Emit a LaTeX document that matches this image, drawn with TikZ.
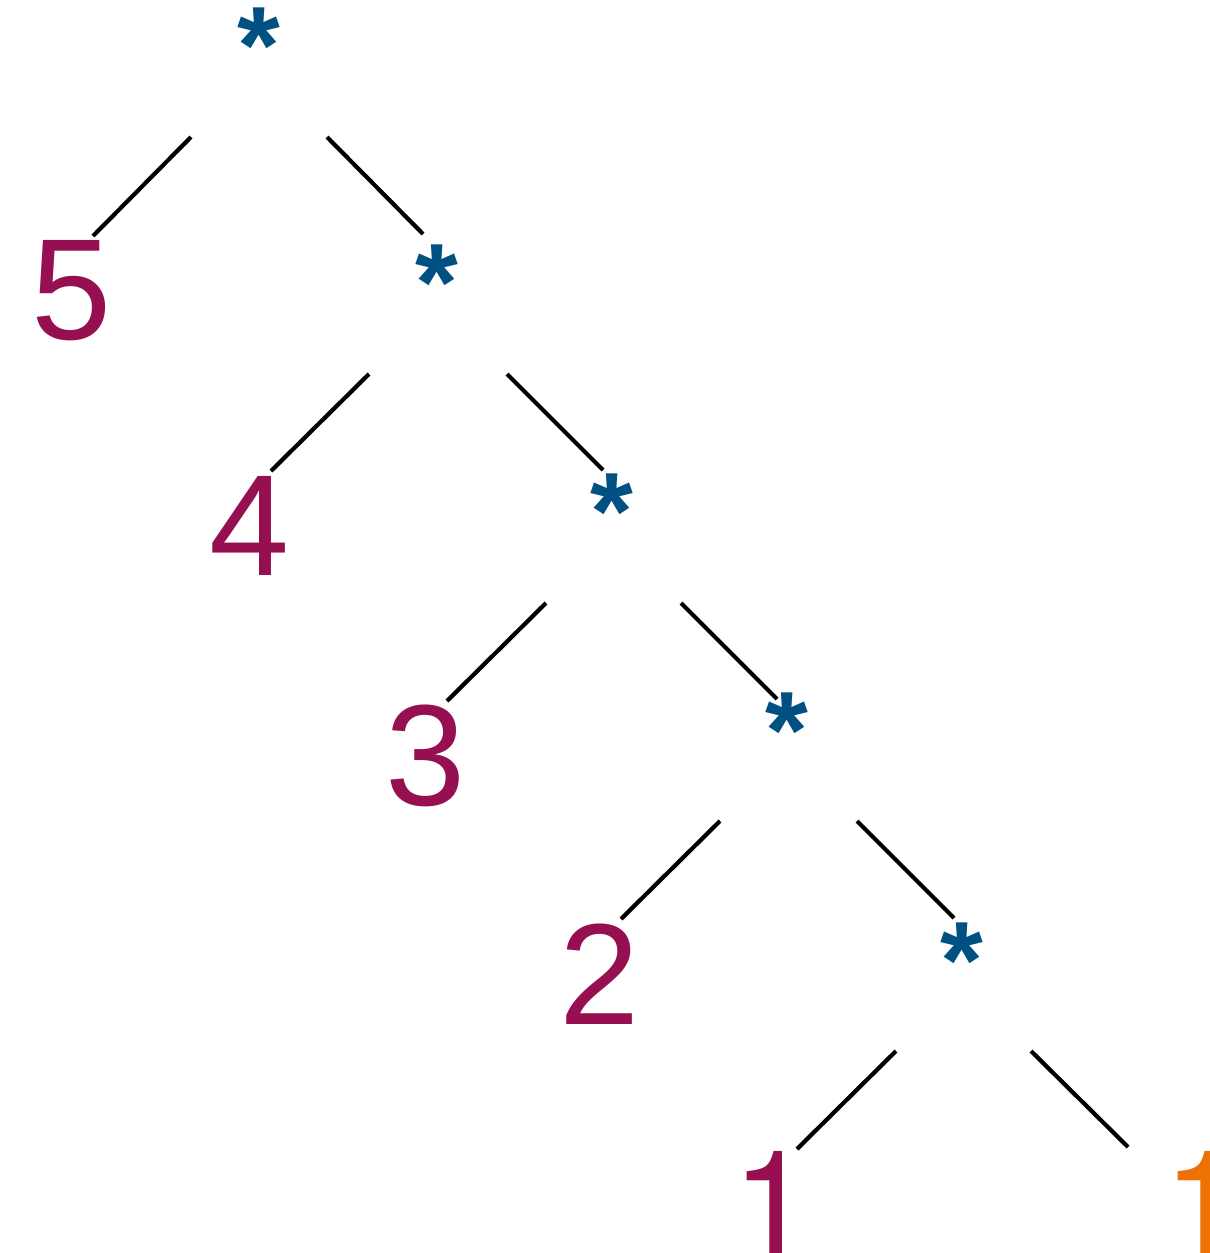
\documentclass[tikz,border=0pt]{standalone}
\usepackage{fontspec}
\setmainfont{Liberation Sans}
\newfontfamily\onefont{TeX Gyre Heros}
\definecolor{opmag}{HTML}{960F50}
\definecolor{opblue}{HTML}{005082}
\definecolor{oporange}{HTML}{EE7203}
\begin{document}
\begin{tikzpicture}[x=1pt,y=-1pt,
  lbl/.style={inner sep=0pt,outer sep=0pt,anchor=base,font=\fontsize{144}{144}\selectfont},
  num/.style={lbl,text=opmag},
  one/.style={lbl,font=\fontsize{144}{144}\selectfont\onefont},
  op/.style={lbl,text=opblue,font=\fontsize{110}{110}\selectfont\bfseries},
  edge/.style={line width=4.2pt,black}]
\useasboundingbox (0,0) rectangle (1210,1253);
% operator nodes
\node[op] (s1) at (259,83) {*};
\node[op] (s2) at (437,320) {*};
\node[op] (s3) at (612,549) {*};
\node[op] (s4) at (787,768) {*};
\node[op] (s5) at (962,998) {*};
% number nodes
\node[num] (n5) at (72,339) {5};
\node[num] (n4) at (250,575) {4};
\node[num] (n3) at (426,805) {3};
\node[num] (n2) at (600,1024) {2};
\node[one,text=opmag] (n1) at (773,1253) {1};
\node[one,text=oporange] (m1) at (1204,1253) {1};
% connector ends
\coordinate (s1l) at (191,137); \coordinate (n5t) at (93,236);
\coordinate (s1r) at (327,137); \coordinate (s2t) at (423,234);
\coordinate (s2l) at (369,374); \coordinate (n4t) at (271,471);
\coordinate (s2r) at (507,374); \coordinate (s3t) at (603,470);
\coordinate (s3l) at (546,603); \coordinate (n3t) at (447,701);
\coordinate (s3r) at (681,603); \coordinate (s4t) at (777,699);
\coordinate (s4l) at (720,821); \coordinate (n2t) at (621,919);
\coordinate (s4r) at (857,821); \coordinate (s5t) at (954,918);
\coordinate (s5l) at (896,1051); \coordinate (n1t) at (797,1149);
\coordinate (s5r) at (1031,1051); \coordinate (m1t) at (1128,1147);
% connectors
\draw[edge] (s1l) -- (n5t);
\draw[edge] (s1r) -- (s2t);
\draw[edge] (s2l) -- (n4t);
\draw[edge] (s2r) -- (s3t);
\draw[edge] (s3l) -- (n3t);
\draw[edge] (s3r) -- (s4t);
\draw[edge] (s4l) -- (n2t);
\draw[edge] (s4r) -- (s5t);
\draw[edge] (s5l) -- (n1t);
\draw[edge] (s5r) -- (m1t);
\end{tikzpicture}
\end{document}
